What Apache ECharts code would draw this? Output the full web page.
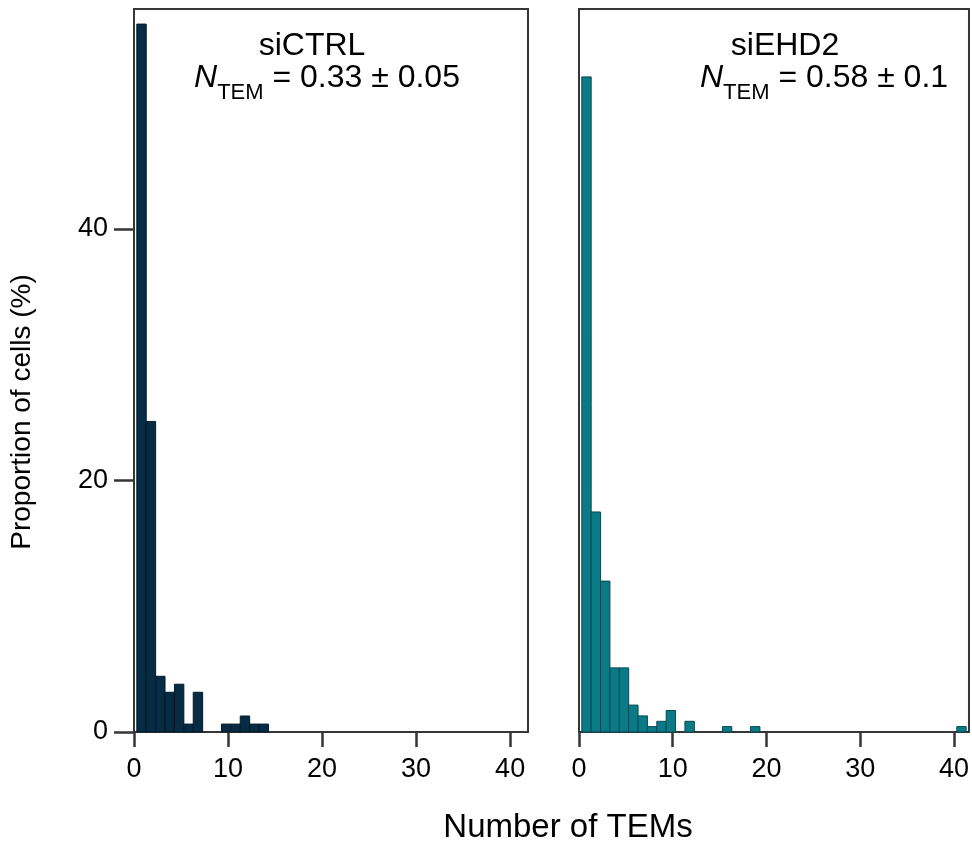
<!DOCTYPE html>
<html>
<head>
<meta charset="utf-8">
<script src="https://cdn.jsdelivr.net/npm/echarts@6/dist/echarts.min.js"></script>
<style>html,body{margin:0;padding:0;background:#fff;}#chart{width:972px;height:848px;}</style>
</head>
<body>
<div id="chart"></div>
<script>
// Number of TEMs per cell (histogram bin index) and proportion of cells (%)
const temBins = [0,1,2,3,4,5,6,7,8,9,10,11,12,13,14,15,16,17,18,19,20,21,22,23,24,25,26,27,28,29,30,31,32,33,34,35,36,37,38,39,40];
const siCTRL = [56.3, 24.7, 4.43, 3.16, 3.80, 0.63, 3.16, 0, 0, 0.63, 0.63, 1.27, 0.63, 0.63];
const siEHD2 = [52.1, 17.5, 12.0, 5.1, 5.1, 2.14, 1.28, 0.43, 0.85, 1.71, 0, 0.85, 0, 0, 0, 0.43, 0, 0, 0.43,
                0, 0, 0, 0, 0, 0, 0, 0, 0, 0, 0, 0, 0, 0, 0, 0, 0, 0, 0, 0, 0, 0.43];
const xTicks = [0, 10, 20, 30, 40];
const yTicks = [0, 20, 40];
const panelTitles = ['siCTRL', 'siEHD2'];
const panelStats = ['0.33 ± 0.05', '0.58 ± 0.1'];
const xTitle = 'Number of TEMs';
const yTitle = 'Proportion of cells (%)';

const BIN_OFFSET = 0.3, BIN_WIDTH = 1;
const FONT = '"Liberation Sans", Arial, sans-serif';
const AX = '#363636';

function toData(vals) { return vals.map((v, i) => [temBins[i], v]); }

function barRenderer(fill, stroke) {
  return function (params, api) {
    const k = api.value(0), v = api.value(1);
    if (!v) return null;
    const p0 = api.coord([k + BIN_OFFSET, v]);
    const p1 = api.coord([k + BIN_OFFSET + BIN_WIDTH, 0]);
    return {
      type: 'rect',
      shape: { x: p0[0], y: p0[1], width: p1[0] - p0[0], height: p1[1] - p0[1] },
      style: { fill: fill, stroke: stroke, lineWidth: 1 }
    };
  };
}

function xAxis(idx, max) {
  return {
    type: 'value', gridIndex: idx, min: 0, max: max,
    axisLine: { show: true, onZero: false, lineStyle: { color: AX, width: 2 } },
    axisTick: { show: true, length: 15, customValues: xTicks, lineStyle: { color: AX, width: 2.5 } },
    axisLabel: { show: true, customValues: xTicks, margin: 24, fontSize: 27, color: '#000', fontFamily: FONT },
    splitLine: { show: false }
  };
}
function yAxis(idx, showLabels) {
  return {
    type: 'value', gridIndex: idx, min: 0, max: 57.5,
    axisLine: { show: true, onZero: false, lineStyle: { color: AX, width: 2 } },
    axisTick: { show: showLabels, length: 20, customValues: yTicks, lineStyle: { color: AX, width: 2.5 } },
    axisLabel: { show: showLabels, customValues: yTicks, margin: 26, fontSize: 27, color: '#000', fontFamily: FONT },
    splitLine: { show: false }
  };
}

function statText(x, y, stat) {
  return {
    type: 'text', x: x, y: y,
    style: {
      text: '{n|N}{s|TEM}{m| = ' + stat + '}',
      align: 'center', verticalAlign: 'middle',
      rich: {
        n: { fontSize: 32, fontStyle: 'italic', fontFamily: FONT, fill: '#000', lineHeight: 52, verticalAlign: 'middle' },
        s: { fontSize: 22, fontFamily: FONT, fill: '#000', lineHeight: 22, verticalAlign: 'bottom' },
        m: { fontSize: 32, fontFamily: FONT, fill: '#000', lineHeight: 52, verticalAlign: 'middle' }
      }
    }
  };
}

const chart = echarts.init(document.getElementById('chart'), null, { renderer: 'canvas' });
chart.setOption({
  animation: false,
  backgroundColor: '#fff',
  grid: [
    { left: 134, top: 9, width: 394, height: 723, show: true, borderColor: AX, borderWidth: 2, backgroundColor: 'transparent' },
    { left: 579, top: 9, width: 392, height: 723, show: true, borderColor: AX, borderWidth: 2, backgroundColor: 'transparent' }
  ],
  xAxis: [xAxis(0, 41.9), xAxis(1, 41.6)],
  yAxis: [yAxis(0, true), yAxis(1, false)],
  series: [
    { type: 'custom', xAxisIndex: 0, yAxisIndex: 0, data: toData(siCTRL), renderItem: barRenderer('#062b42', '#021a2a') },
    { type: 'custom', xAxisIndex: 1, yAxisIndex: 1, data: toData(siEHD2), renderItem: barRenderer('#0b7a87', '#064a54') }
  ],
  graphic: [
    { type: 'text', x: 312, y: 46, style: { text: panelTitles[0], align: 'center', verticalAlign: 'middle', fontSize: 32, fontFamily: FONT, fill: '#000' } },
    statText(327, 78, panelStats[0]),
    { type: 'text', x: 785, y: 46, style: { text: panelTitles[1], align: 'center', verticalAlign: 'middle', fontSize: 32, fontFamily: FONT, fill: '#000' } },
    statText(824, 78, panelStats[1]),
    { type: 'text', x: 568, y: 828, style: { text: xTitle, align: 'center', verticalAlign: 'middle', fontSize: 33, fontFamily: FONT, fill: '#000' } },
    { type: 'text', x: 22, y: 412, rotation: Math.PI / 2, style: { text: yTitle, align: 'center', verticalAlign: 'middle', fontSize: 28, fontFamily: FONT, fill: '#000' } }
  ]
});
</script>
</body>
</html>
